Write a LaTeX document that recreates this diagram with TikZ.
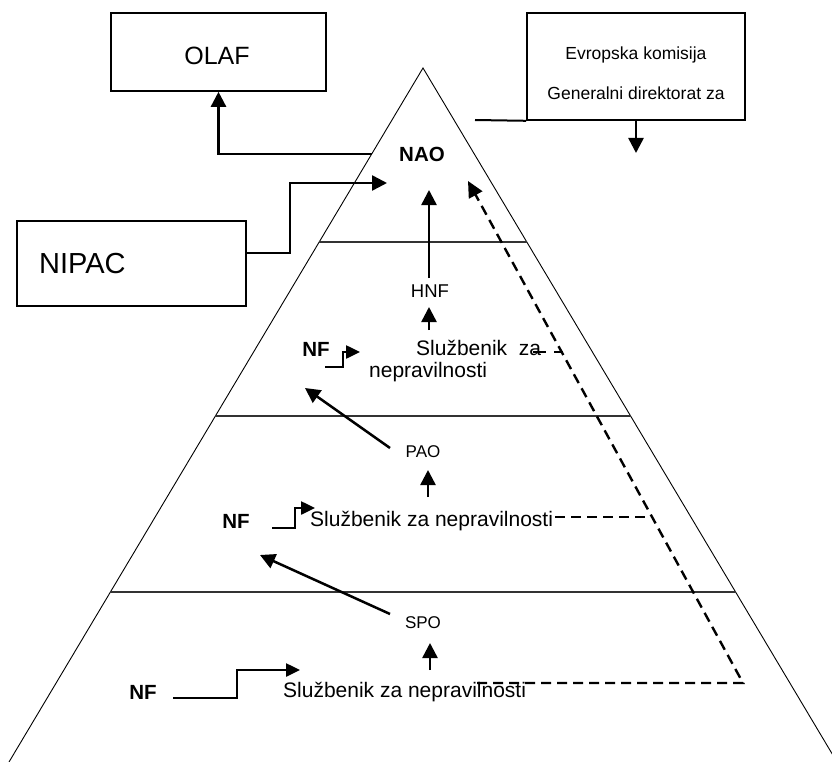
\documentclass[tikz,border=0pt]{standalone}
\usepackage{fontspec}
\setmainfont{Liberation Sans}
\usetikzlibrary{arrows.meta,calc}
\begin{document}
\begin{tikzpicture}[x=1pt,y=-1pt,
  tri/.style={line width=0.9pt},
  divider/.style={line width=1.6pt, black!80},
  box/.style={draw, line width=1.6pt, fill=white, inner sep=0pt},
  arr/.style={line width=2.5pt, -{Triangle[length=15pt,width=15pt]}},
  sarr/.style={line width=2.5pt, -{Triangle[length=14pt,width=13pt]}},
  dline/.style={line width=2.4pt, dash pattern=on 10pt off 6pt},
  txt/.style={inner sep=0pt, font=\fontsize{21}{25}\selectfont},
  boldtxt/.style={inner sep=0pt, font=\fontsize{20.5}{24}\selectfont\bfseries},
  smalltxt/.style={inner sep=0pt, font=\fontsize{17}{20}\selectfont},
  boxtxt/.style={inner sep=0pt, font=\fontsize{17.5}{21}\selectfont},
  ]
\useasboundingbox (0,0) rectangle (832,762);
\clip (0,0) rectangle (832,762);
% pyramid
\coordinate (apex) at (423,68);
\coordinate (bl) at (9,762);
\coordinate (br) at (837,762);
\draw[tri, fill=white] (bl) -- (apex) -- (br);
\draw[divider] (319.2,242) -- (526.8,242);
\draw[divider] (215.4,416) -- (630.6,416);
\draw[divider] (110.4,592) -- (735.6,592);

% boxes
\node[box, minimum width=215pt, minimum height=78pt] (olaf) at (218.5,52) {};
\node[inner sep=0pt, font=\fontsize{25}{30}\selectfont] (olaft) at (217,56) {OLAF};
\node[box, minimum width=218pt, minimum height=107pt] (ek) at (636,66.5) {};
\node[boxtxt] (ek1) at (636,55) {Evropska komisija};
\node[boxtxt] (ek2) at (636,93) {Generalni direktorat za};
\node[box, minimum width=229pt, minimum height=85pt] (nipac) at (131.5,263.5) {};
\node[inner sep=0pt, anchor=west, font=\fontsize{29}{33}\selectfont] (nipact) at (39,264) {NIPAC};

% texts in pyramid
\node[boldtxt] (nao) at (422,154) {NAO};
\node[inner sep=0pt, font=\fontsize{18.5}{22}\selectfont] (hnf) at (430,291) {HNF};
\node[boldtxt] (nf1) at (316,349) {NF};
\node[txt, anchor=west] (s1a) at (416,348) {Službenik\hspace{0.55em}za};
\node[txt, anchor=west] (s1b) at (369,372) {nepravilnosti};
\node[smalltxt] (pao) at (423,452) {PAO};
\node[boldtxt] (nf2) at (236,521) {NF};
\node[txt, anchor=west] (s2) at (310,521) {Službenik za nepravilnosti};
\node[smalltxt] (spo) at (423,623) {SPO};
\node[boldtxt] (nf3) at (143,692) {NF};
\node[txt, anchor=west] (s3) at (283,692) {Službenik za nepravilnosti};

% coordinates
\coordinate (naoleft) at (371.7,154);
\coordinate (nipacout) at (246,253);
\coordinate (nipactip) at (387,183);
\coordinate (hnfup) at (429,278);
\coordinate (naobot) at (429,190);
\coordinate (ekline) at (475,120);
\coordinate (ektip) at (636,153);
\coordinate (st1a) at (325,367); \coordinate (st1b) at (360,352);
\coordinate (st2a) at (272,528); \coordinate (st2b) at (315,508);
\coordinate (st3a) at (173,698); \coordinate (st3b) at (300,670);
\coordinate (d1a) at (390,448); \coordinate (d1b) at (305,388);
\coordinate (d2a) at (390,614); \coordinate (d2b) at (260,555);
\coordinate (u1a) at (429,330); \coordinate (u1b) at (429,307);
\coordinate (u2a) at (428,497); \coordinate (u2b) at (428,470);
\coordinate (u3a) at (430,670); \coordinate (u3b) at (430,643);
\coordinate (dsb) at (477,683); \coordinate (dcorner) at (743,683);
\coordinate (dtip) at (468,181);
\coordinate (dm1) at (555,517); \coordinate (dm2) at (652,517);
\coordinate (dt1) at (533,352); \coordinate (dt2) at (563,352);

% connectors
\draw[arr] (naoleft) -| (olaf.south);
\draw[arr] (nipacout) -- ++(44,0) |- (nipactip);
\draw[arr] (hnfup) -- (naobot);
\draw[line width=2pt] (ekline) -- (ek.south west);
\draw[arr] (ek.south) -- (ektip);
\draw[sarr] (st1a) -- ++(18,0) |- (st1b);
\draw[sarr] (st2a) -- ++(23,0) |- (st2b);
\draw[sarr] (st3a) -- ++(64,0) |- (st3b);
\draw[arr] (d1a) -- (d1b);
\draw[arr] (d2a) -- (d2b);
\draw[arr] (u1a) -- (u1b);
\draw[arr] (u2a) -- (u2b);
\draw[arr] (u3a) -- (u3b);
\draw[dline, -{Triangle[length=16pt,width=15pt]}] (dsb) -- (dcorner) -- (dtip);
\draw[dline] (dm1) -- (dm2);
\draw[dline, dash pattern=on 13pt off 8pt] (dt1) -- (dt2);
\end{tikzpicture}
\end{document}
